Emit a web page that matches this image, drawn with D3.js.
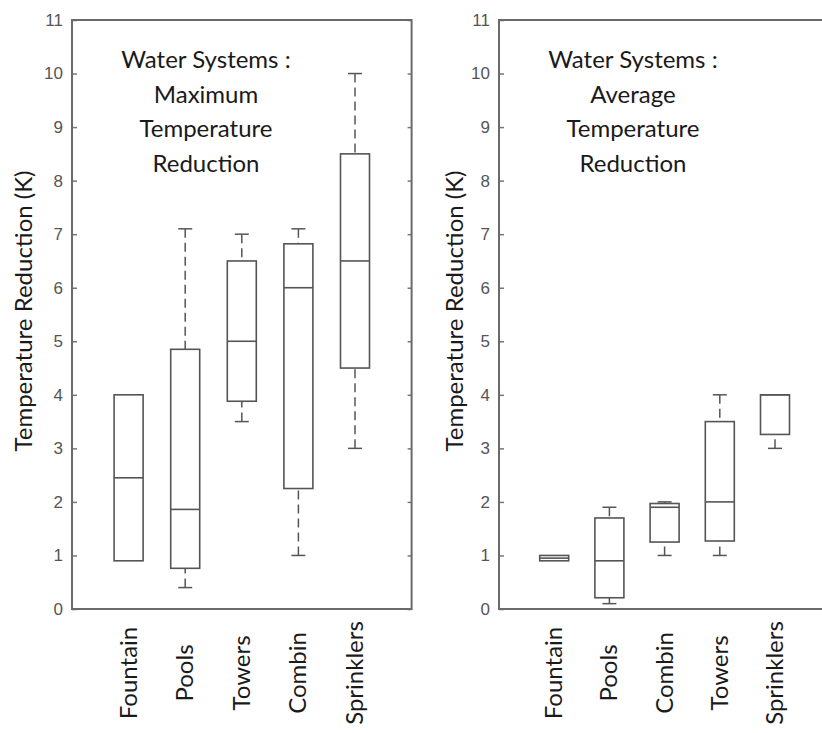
<!DOCTYPE html>
<html>
<head>
<meta charset="utf-8">
<script src="https://cdn.jsdelivr.net/npm/d3@7"></script>
<style>
  body { margin: 0; background: #fff; }
  svg { display: block; }
</style>
</head>
<body>
<div id="chart"></div>
<script>
// left panel : maximum temperature reduction
const categoriesMax = ['Fountain', 'Pools', 'Towers', 'Combin', 'Sprinklers']
const maxLow = [0.9, 0.4, 3.5, 1.0, 3.0]
const maxQ1 = [0.9, 0.76, 3.88, 2.25, 4.5]
const maxMedian = [2.45, 1.86, 5.0, 6.0, 6.5]
const maxQ3 = [4.0, 4.85, 6.5, 6.82, 8.5]
const maxHigh = [4.0, 7.1, 7.0, 7.1, 10.0]

// right panel : average temperature reduction
const categoriesAvg = ['Fountain', 'Pools', 'Combin', 'Towers', 'Sprinklers']
const avgLow = [0.9, 0.1, 1.0, 1.0, 3.0]
const avgQ1 = [0.9, 0.21, 1.25, 1.27, 3.26]
const avgMedian = [0.95, 0.9, 1.9, 2.0, 4.0]
const avgQ3 = [1.0, 1.7, 1.97, 3.5, 4.0]
const avgHigh = [1.0, 1.9, 2.0, 4.0, 4.0]

const yTickValues = [0, 1, 2, 3, 4, 5, 6, 7, 8, 9, 10, 11]
const titleMax = ['Water Systems :', 'Maximum', 'Temperature', 'Reduction']
const titleAvg = ['Water Systems :', 'Average', 'Temperature', 'Reduction']
const yLabel = 'Temperature Reduction (K)'

const width = 822
const height = 733
const plotTop = 20
const plotBottom = 609
const boxWidth = 29
const textFont = 'Lato, "Open Sans", sans-serif'
const tickFont = '"Liberation Sans Narrow", "Arial Narrow", "Liberation Sans", sans-serif'

const svg = d3.select('#chart').append('svg').attr('width', width).attr('height', height)

const y = d3.scaleLinear().domain([0, 11]).range([plotBottom, plotTop])

const drawPanel = (left, step, cats, low, q1, med, q3, high, title, labelX) => {
    const x = d3.scaleLinear().domain([0, 6]).range([left, left + 6 * step])
    const g = svg.append('g')
    const rows = cats.map((c, i) => ({ name: c, pos: i + 1, low: low[i], q1: q1[i], med: med[i], q3: q3[i], high: high[i] }))

    // y axis, ticks point inward
    const axisL = g.append('g').attr('transform', `translate(${left},0)`)
        .call(d3.axisLeft(y).tickValues(yTickValues).tickSize(-5).tickPadding(9).tickFormat(d3.format('d')))
    axisL.select('.domain').remove()
    axisL.selectAll('line').attr('stroke', '#777').attr('stroke-width', 1.5)
    axisL.selectAll('text').attr('font-family', tickFont).attr('font-size', 17).attr('fill', '#555')

    const axisR = g.append('g').attr('transform', `translate(${x.range()[1]},0)`)
        .call(d3.axisRight(y).tickValues(yTickValues).tickSize(-4).tickFormat(''))
    axisR.select('.domain').remove()
    axisR.selectAll('line').attr('stroke', '#777').attr('stroke-width', 1.5)

    g.append('rect')
        .attr('x', x.range()[0]).attr('y', plotTop)
        .attr('width', x.range()[1] - x.range()[0]).attr('height', plotBottom - plotTop)
        .attr('fill', 'none').attr('stroke', '#6a6a6a').attr('stroke-width', 2)

    // whiskers
    const whisk = g.selectAll('.whisk').data(rows).enter().append('g').attr('class', 'whisk')
    whisk.filter(d => d.high > d.q3).append('line')
        .attr('x1', d => x(d.pos)).attr('x2', d => x(d.pos))
        .attr('y1', d => y(d.high)).attr('y2', d => y(d.q3))
        .attr('stroke', '#555').attr('stroke-width', 1.5).attr('stroke-dasharray', '9,5')
    whisk.filter(d => d.low < d.q1).append('line')
        .attr('x1', d => x(d.pos)).attr('x2', d => x(d.pos))
        .attr('y1', d => y(d.low)).attr('y2', d => y(d.q1))
        .attr('stroke', '#555').attr('stroke-width', 1.5).attr('stroke-dasharray', '9,5')
    whisk.filter(d => d.high > d.q3).append('line')
        .attr('x1', d => x(d.pos) - 7).attr('x2', d => x(d.pos) + 7)
        .attr('y1', d => y(d.high)).attr('y2', d => y(d.high))
        .attr('stroke', '#555').attr('stroke-width', 1.5)
    whisk.filter(d => d.low < d.q1).append('line')
        .attr('x1', d => x(d.pos) - 7).attr('x2', d => x(d.pos) + 7)
        .attr('y1', d => y(d.low)).attr('y2', d => y(d.low))
        .attr('stroke', '#555').attr('stroke-width', 1.5)

    // boxes and medians
    g.selectAll('.box').data(rows).enter().append('rect').attr('class', 'box')
        .attr('x', d => x(d.pos) - boxWidth / 2).attr('width', boxWidth)
        .attr('y', d => y(d.q3)).attr('height', d => y(d.q1) - y(d.q3))
        .attr('fill', 'none').attr('stroke', '#555').attr('stroke-width', 1.6)
    g.selectAll('.median').data(rows).enter().append('line').attr('class', 'median')
        .attr('x1', d => x(d.pos) - boxWidth / 2).attr('x2', d => x(d.pos) + boxWidth / 2)
        .attr('y1', d => y(d.med)).attr('y2', d => y(d.med))
        .attr('stroke', '#555').attr('stroke-width', 1.6)

    // category labels, rotated
    g.selectAll('.cat').data(rows).enter().append('text').attr('class', 'cat')
        .attr('transform', d => `translate(${x(d.pos) + 8},673) rotate(-90)`)
        .attr('text-anchor', 'middle')
        .attr('font-family', textFont).attr('font-size', 24).attr('fill', '#1a1a1a')
        .text(d => d.name)

    // title inside the frame
    g.append('text')
        .attr('font-family', textFont).attr('font-size', 24).attr('fill', '#1a1a1a')
        .attr('text-anchor', 'middle')
        .selectAll('tspan').data(title).enter().append('tspan')
        .attr('x', left + 134).attr('y', (d, i) => 68 + i * 34.5)
        .text(d => d)

    g.append('text')
        .attr('transform', `translate(${labelX},311) rotate(-90)`)
        .attr('text-anchor', 'middle')
        .attr('font-family', textFont).attr('font-size', 24).attr('fill', '#1a1a1a')
        .text(yLabel)
}

drawPanel(72, 56.6, categoriesMax, maxLow, maxQ1, maxMedian, maxQ3, maxHigh, titleMax, 32)
drawPanel(499, 55.2, categoriesAvg, avgLow, avgQ1, avgMedian, avgQ3, avgHigh, titleAvg, 463)
</script>
</body>
</html>
